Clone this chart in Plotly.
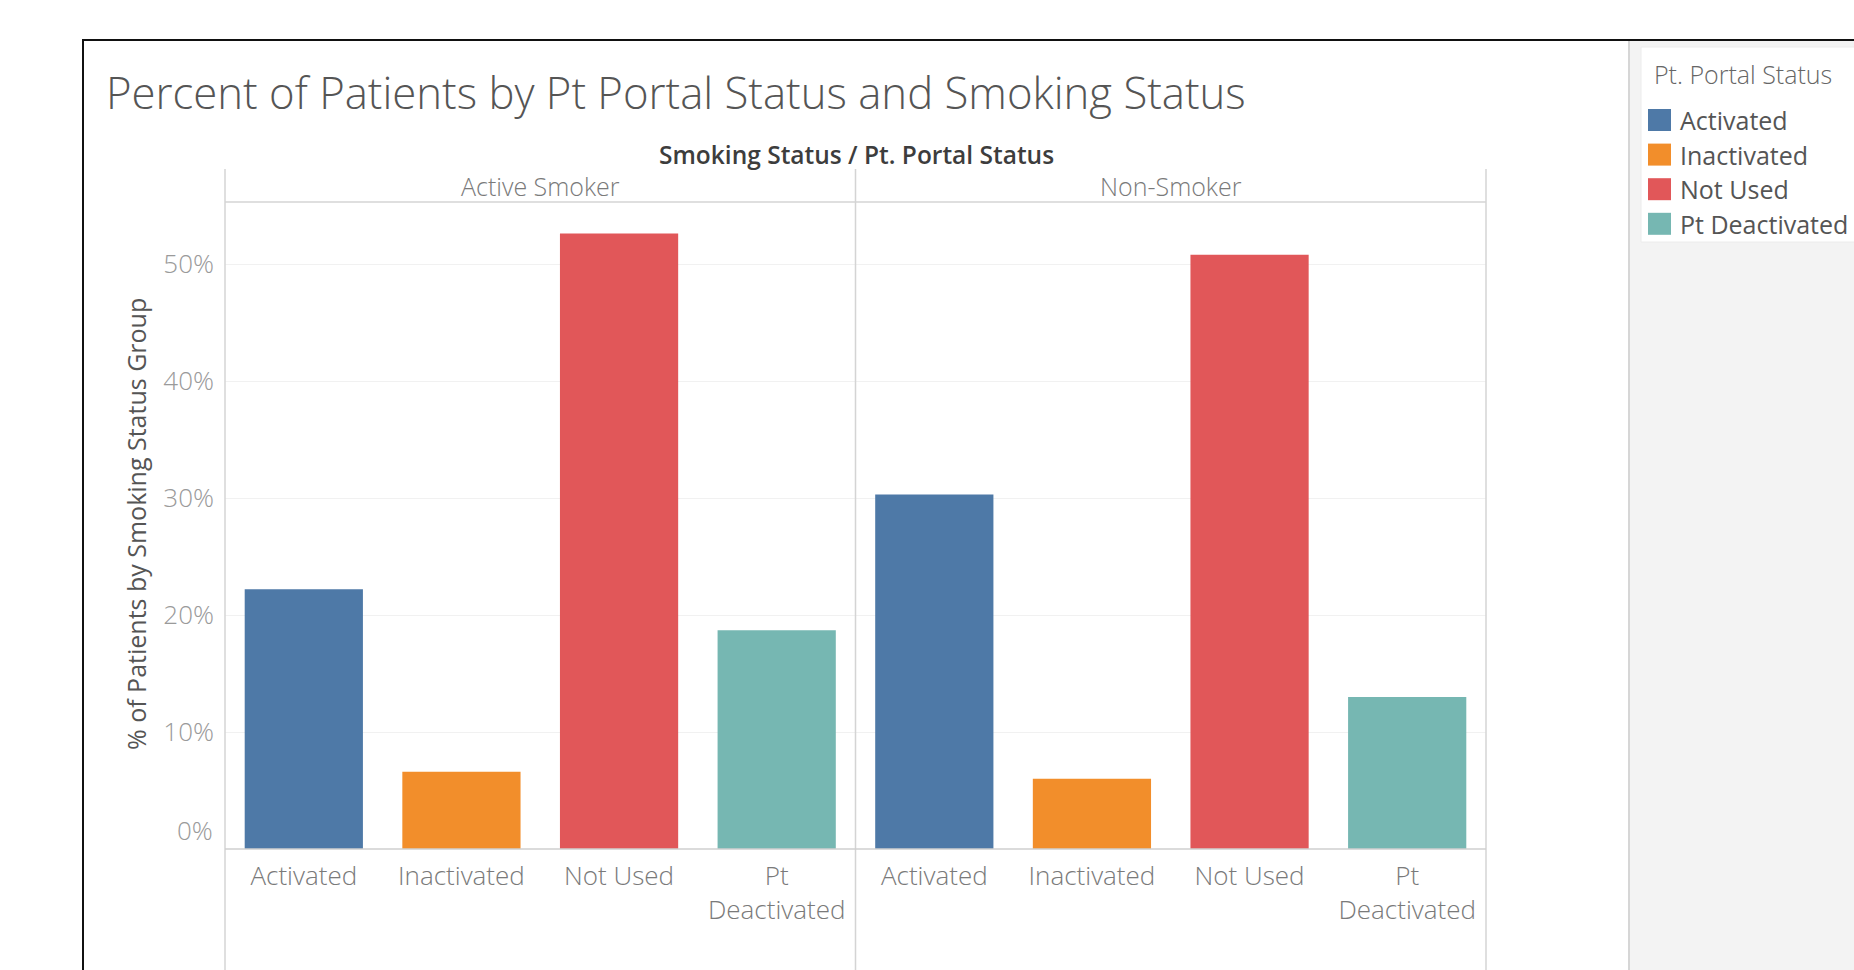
import plotly.graph_objects as go

# ---- data -------------------------------------------------------------
groups = ["Active Smoker", "Non-Smoker"]
statuses = ["Activated", "Inactivated", "Not Used", "Pt Deactivated"]
status_ticktext = ["Activated", "Inactivated", "Not Used", "Pt<br>Deactivated"]
active_smoker_pct = [22.2, 6.6, 52.6, 18.7]
non_smoker_pct = [30.3, 6.0, 50.8, 13.0]
status_colors = ["#4e79a7", "#f28e2b", "#e15759", "#76b7b2"]
y_tick_vals = [10, 20, 30, 40, 50]
y_tick_text = ["10%", "20%", "30%", "40%", "50%"]

# ---- page geometry (pixels) ------------------------------------------
W, H = 1854, 970
L, R, T, B = 225, 1486, 202, 849          # plotting area
Y_MAX = 55.3                               # top of value axis (%)
FONT = "Open Sans"


def px(x):
    return (x - L) / (R - L)


def py(y):
    return (B - y) / (B - T)


fig = go.Figure()

for i, (grp, vals) in enumerate(zip(groups, [active_smoker_pct, non_smoker_pct])):
    fig.add_trace(go.Bar(
        x=statuses,
        y=vals,
        name=grp,
        marker=dict(color=status_colors, line=dict(width=0)),
        xaxis="x" if i == 0 else "x2",
        yaxis="y",
        showlegend=False,
        hovertemplate="%{x}: %{y:.1f}%<extra>" + grp + "</extra>",
    ))

xaxis_common = dict(
    type="category",
    categoryorder="array",
    categoryarray=statuses,
    tickvals=statuses,
    ticktext=status_ticktext,
    tickfont=dict(family=FONT, size=26, color="#7a7a7a", weight=300),
    ticklabelstandoff=9,
    showline=False,
    showgrid=False,
    zeroline=False,
    ticks="",
    fixedrange=True,
)

fig.update_layout(
    width=W,
    height=H,
    margin=dict(l=L, r=W - R, t=T, b=H - B, pad=0),
    paper_bgcolor="white",
    plot_bgcolor="white",
    bargap=0.25,
    xaxis=dict(domain=[0, 0.5], anchor="y", **xaxis_common),
    xaxis2=dict(domain=[0.5, 1], anchor="y", **xaxis_common),
    yaxis=dict(
        range=[0, Y_MAX],
        tickvals=y_tick_vals,
        ticktext=y_tick_text,
        tickfont=dict(family=FONT, size=26, color="#9a9a9a", weight=300),
        ticks="",
        ticklabelstandoff=10,
        showgrid=True,
        gridcolor="#f1f1f1",
        gridwidth=1,
        zeroline=False,
        showline=False,
        fixedrange=True,
    ),
    font=dict(family=FONT),
    showlegend=False,
)

shapes = []
# outer dashboard frame
shapes.append(dict(type="rect", xref="paper", yref="paper",
                   x0=px(1630), x1=px(1900), y0=py(41), y1=py(1000),
                   fillcolor="#f3f3f3", line=dict(width=0), layer="below"))
shapes.append(dict(type="line", xref="paper", yref="paper",
                   x0=px(1629), x1=px(1629), y0=py(41), y1=py(1000),
                   line=dict(color="#d6d6d6", width=2)))
shapes.append(dict(type="rect", xref="paper", yref="paper",
                   x0=px(1641), x1=px(1900), y0=py(47), y1=py(242),
                   fillcolor="white", line=dict(color="#ececec", width=1), layer="below"))
shapes.append(dict(type="rect", xref="paper", yref="paper",
                   x0=px(83), x1=px(1900), y0=py(40), y1=py(1000),
                   fillcolor="rgba(0,0,0,0)", line=dict(color="#111111", width=2)))

# pane and header rules
rule = dict(color="#d4d4d4", width=1.5)
for xv in (0, 0.5, 1):
    shapes.append(dict(type="line", xref="paper", yref="paper",
                       x0=xv, x1=xv, y0=py(169), y1=py(1000), line=rule))
shapes.append(dict(type="line", xref="paper", yref="paper",
                   x0=0, x1=1, y0=1, y1=1, line=rule))
shapes.append(dict(type="line", xref="paper", yref="paper",
                   x0=0, x1=1, y0=0, y1=0, line=dict(color="#cfcfcf", width=1.5)))

annotations = []
annotations.append(dict(
    text="Percent of Patients by Pt Portal Status and Smoking Status",
    xref="paper", yref="paper", x=px(104), y=py(92),
    xanchor="left", yanchor="middle", showarrow=False,
    font=dict(family=FONT, size=43.7, color="#555555", weight=300)))
annotations.append(dict(
    text="Smoking Status / Pt. Portal Status",
    xref="paper", yref="paper", x=px(856), y=py(154),
    xanchor="center", yanchor="middle", showarrow=False,
    font=dict(family=FONT, size=24.5, color="#3d3d3d", weight=600)))
for i, grp in enumerate(groups):
    annotations.append(dict(
        text=grp, xref="paper", yref="paper",
        x=0.25 + 0.5 * i, y=py(186),
        xanchor="center", yanchor="middle", showarrow=False,
        font=dict(family=FONT, size=25, color="#7a7a7a", weight=300)))
annotations.append(dict(
    text="% of Patients by Smoking Status Group",
    xref="paper", yref="paper", x=px(136), y=py(524),
    xanchor="center", yanchor="middle", textangle=-90, showarrow=False,
    font=dict(family=FONT, size=25, color="#555555")))
# 0% label sits just above the baseline
annotations.append(dict(
    text="0%", xref="paper", yref="y", x=px(215), y=0,
    xanchor="right", yanchor="middle", yshift=19, showarrow=False,
    font=dict(family=FONT, size=26, color="#9a9a9a", weight=300)))

# colour legend
annotations.append(dict(
    text="Pt. Portal Status", xref="paper", yref="paper",
    x=px(1652), y=py(74), xanchor="left", yanchor="middle", showarrow=False,
    font=dict(family=FONT, size=25, color="#666666", weight=300)))
for i, (name, col) in enumerate(zip(statuses, status_colors)):
    cy = 120 + 34.6 * i
    shapes.append(dict(type="rect", xref="paper", yref="paper",
                       x0=px(1648), x1=px(1671), y0=py(cy - 11), y1=py(cy + 11),
                       fillcolor=col, line=dict(width=0)))
    annotations.append(dict(
        text=name, xref="paper", yref="paper",
        x=px(1678), y=py(cy), xanchor="left", yanchor="middle", showarrow=False,
        font=dict(family=FONT, size=25, color="#555555")))

fig.update_layout(shapes=shapes, annotations=annotations)

fig.write_html("out.html", config={"displayModeBar": False})
